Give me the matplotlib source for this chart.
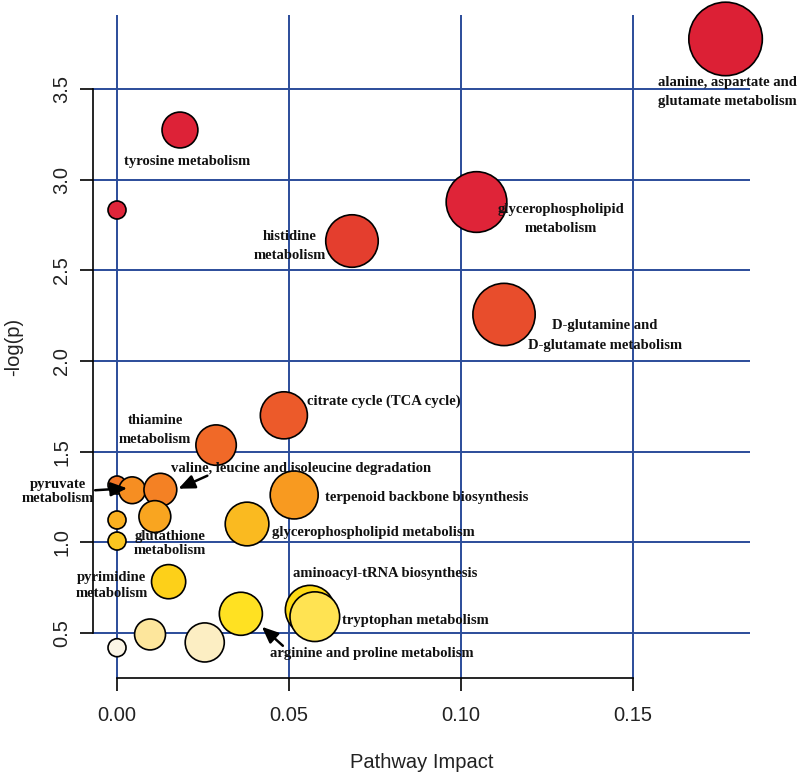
import numpy as np
import matplotlib
matplotlib.use("Agg")
import matplotlib.pyplot as plt
from matplotlib.colors import LinearSegmentedColormap
from matplotlib.transforms import offset_copy

# pathway impact vs -log(p), one bubble per pathway
pathways = [
    "alanine, aspartate and\nglutamate metabolism",
    "tyrosine metabolism",
    "",
    "glycerophospholipid\nmetabolism",
    "histidine\nmetabolism",
    "D-glutamine and\nD-glutamate metabolism",
    "citrate cycle (TCA cycle)",
    "thiamine\nmetabolism",
    "",
    "pyruvate\nmetabolism",
    "valine, leucine and isoleucine degradation",
    "terpenoid backbone biosynthesis",
    "glutathione\nmetabolism",
    "",
    "glycerophospholipid metabolism",
    "",
    "pyrimidine\nmetabolism",
    "aminoacyl-tRNA biosynthesis",
    "tryptophan metabolism",
    "arginine and proline metabolism",
    "",
    "",
    "",
]
impact = [0.1769, 0.0183, 0.0, 0.1045, 0.0683, 0.1125, 0.0485, 0.0288, 0.0, 0.0044,
          0.0126, 0.0515, 0.0110, 0.0, 0.0378, 0.0, 0.0150, 0.0561, 0.0575, 0.0360,
          0.0096, 0.0255, 0.0]
neglogp = [3.775, 3.273, 2.832, 2.876, 2.661, 2.256, 1.700, 1.536, 1.316, 1.287,
           1.290, 1.261, 1.142, 1.123, 1.101, 1.007, 0.783, 0.627, 0.590, 0.606,
           0.492, 0.448, 0.419]

x_ticks = [0.00, 0.05, 0.10, 0.15]
y_ticks = [0.5, 1.0, 1.5, 2.0, 2.5, 3.0, 3.5]

# label layout: index -> (dx px, dy px, ha, linespacing, arrow tail, arrow tip)
label_layout = {
    0: (2, -53, "center", 1.62, None, None),
    1: (7, -31, "center", 1.2, None, None),
    3: (84, -17, "center", 1.62, None, None),
    4: (-62, -5, "center", 1.62, None, None),
    5: (101, -21, "center", 1.68, None, None),
    6: (23, 14, "left", 1.2, None, None),
    7: (-61, 15, "center", 1.62, None, None),
    9: (-74, -1, "center", 1.1, (-37, 0), (-5, 2)),
    10: (141, 21, "center", 1.2, (47, 14), (18, 1)),
    11: (31, -3, "left", 1.2, None, None),
    12: (15, -27, "center", 1.08, None, None),
    14: (25, -9, "left", 1.2, None, None),
    16: (-57, -4, "center", 1.25, None, None),
    17: (-17, 36, "left", 1.2, None, None),
    18: (27, -4, "left", 1.2, None, None),
    19: (131, -40, "center", 1.2, (42, -32), (21, -13)),
}

impact = np.array(impact)
neglogp = np.array(neglogp)

fig = plt.figure(figsize=(8, 7.74), dpi=100)
ax = fig.add_axes([93 / 800, 96 / 774, 657 / 800, 663 / 774])
ax.set_xlim(-0.00698, 0.1840)
ax.set_ylim(0.252, 3.907)

# colour by rank of significance
cmap = LinearSegmentedColormap.from_list("heat", [
    (0.0, "#DC2035"), (0.14, "#E0263A"), (0.18, "#E43E2E"), (0.32, "#F06A28"),
    (0.5, "#F89A20"), (0.68, "#FBC520"), (0.8, "#FFE010"), (0.86, "#FFE347"),
    (0.91, "#FDE69C"), (1.0, "#FBF5E6")])
rank = np.argsort(np.argsort(-neglogp))
colors = cmap(rank / (len(neglogp) - 1))

# radius grows with sqrt(impact)
radius_px = 9 + 66 * np.sqrt(impact)
sizes = (2 * radius_px * 0.72) ** 2

ax.grid(True, color="#2B4C9A", linewidth=1.4, zorder=0)
ax.set_axisbelow(True)
ax.scatter(impact, neglogp, s=sizes, c=colors, edgecolors="black",
           linewidths=1.2, zorder=3, clip_on=False)

for i, (dx, dy, ha, ls, tail, tip) in label_layout.items():
    ax.annotate(pathways[i], xy=(impact[i], neglogp[i]), xytext=(dx, dy),
                textcoords="offset pixels", ha=ha, va="center",
                multialignment="center", linespacing=ls,
                fontsize=10.5, fontweight="bold", family="Liberation Serif",
                color="#111111", zorder=5)
    if tail is not None:
        ax.annotate("", xy=(impact[i], neglogp[i]),
                    xycoords=offset_copy(ax.transData, fig=fig, x=tip[0], y=tip[1], units="dots"),
                    xytext=(impact[i], neglogp[i]),
                    textcoords=offset_copy(ax.transData, fig=fig, x=tail[0], y=tail[1], units="dots"),
                    arrowprops=dict(arrowstyle="-|>,head_length=0.7,head_width=0.3",
                                    color="black", lw=1.8, shrinkA=0, shrinkB=0,
                                    mutation_scale=14),
                    zorder=6)

ax.set_xticks(x_ticks)
ax.set_xticklabels([f"{v:.2f}" for v in x_ticks])
ax.set_yticks(y_ticks)
ax.set_yticklabels([f"{v:.1f}" for v in y_ticks], rotation=90, va="center")

for side in ("top", "right"):
    ax.spines[side].set_visible(False)
ax.spines["left"].set_bounds(y_ticks[0], y_ticks[-1])
ax.spines["bottom"].set_bounds(x_ticks[0], x_ticks[-1])
ax.spines["left"].set_linewidth(1.2)
ax.spines["bottom"].set_linewidth(1.2)

ax.tick_params(direction="out", length=9.5, width=1.2, color="black",
               labelsize=14.5, labelcolor="#222222")
ax.tick_params(axis="x", pad=11)
ax.tick_params(axis="y", pad=6)
for lab in ax.get_xticklabels() + ax.get_yticklabels():
    lab.set_family("Liberation Sans")

ax.set_xlabel("Pathway Impact", fontsize=14.5, family="Liberation Sans",
              color="#222222", labelpad=20)
ax.set_ylabel("-log(p)", fontsize=14.5, family="Liberation Sans",
              color="#222222", labelpad=21)

fig.savefig("out.png", dpi=100)
